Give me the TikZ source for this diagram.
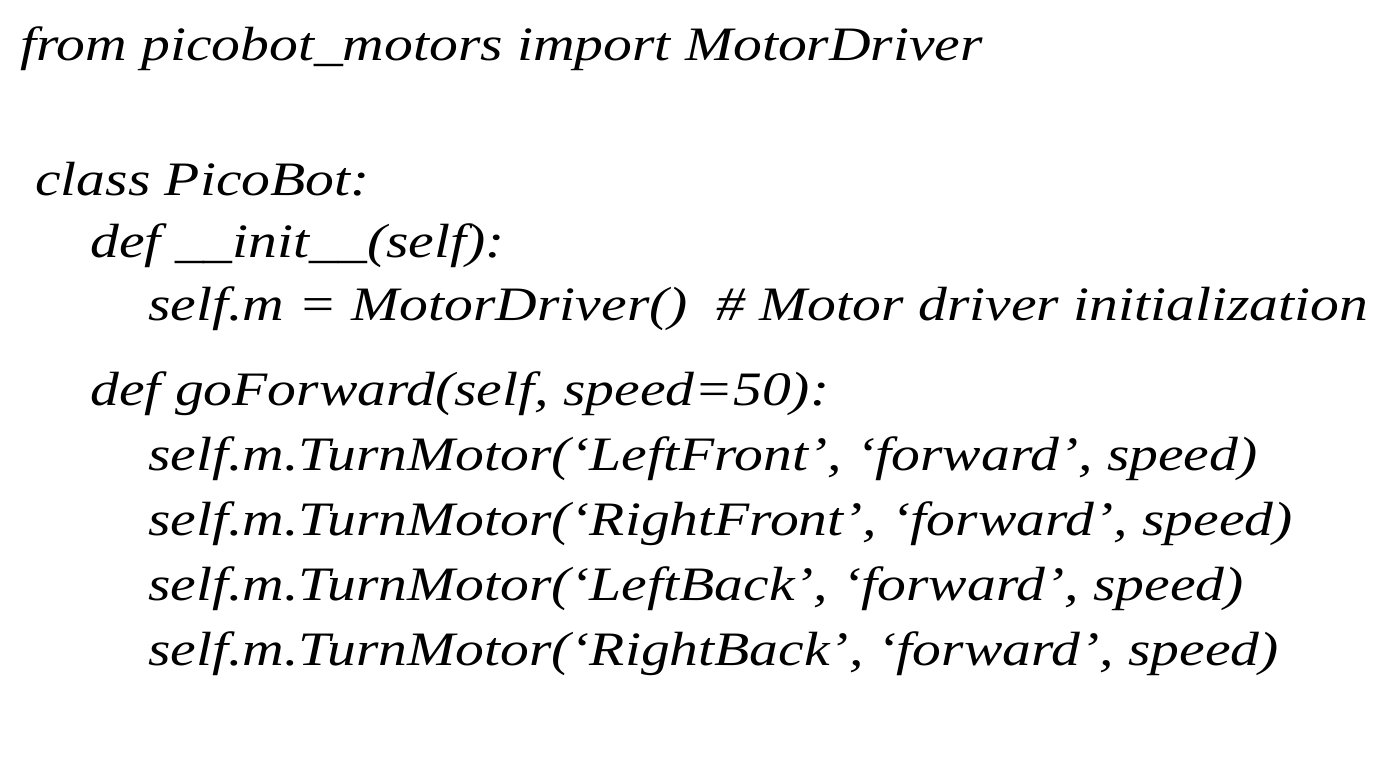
\documentclass[tikz,border=0pt]{standalone}
\usepackage{fontspec}
\setmainfont{Liberation Serif}
\begin{document}
\begin{tikzpicture}[x=1pt,y=-1pt,every node/.style={anchor=base west,inner sep=0pt,xscale=1.2,font=\fontsize{48}{56}\selectfont\itshape}]
\useasboundingbox (0,0) rectangle (1383,758);
\node (l1) at (20,60) {from picobot\_motors import MotorDriver};
\node (l2) at (35,195) {class PicoBot:};
\node (l3) at (90,257) {def \_\_init\_\_(self):};
\node (l4) at (148,320) {self.m = MotorDriver()\ \ \# Motor driver initialization};
\node (l5) at (90,405) {def goForward(self, speed=50):};
\node (l6) at (148,470) {self.m.TurnMotor(`LeftFront', `forward', speed)};
\node (l7) at (148,535) {self.m.TurnMotor(`RightFront', `forward', speed)};
\node (l8) at (148,600) {self.m.TurnMotor(`LeftBack', `forward', speed)};
\node (l9) at (148,665) {self.m.TurnMotor(`RightBack', `forward', speed)};
\end{tikzpicture}
\end{document}
